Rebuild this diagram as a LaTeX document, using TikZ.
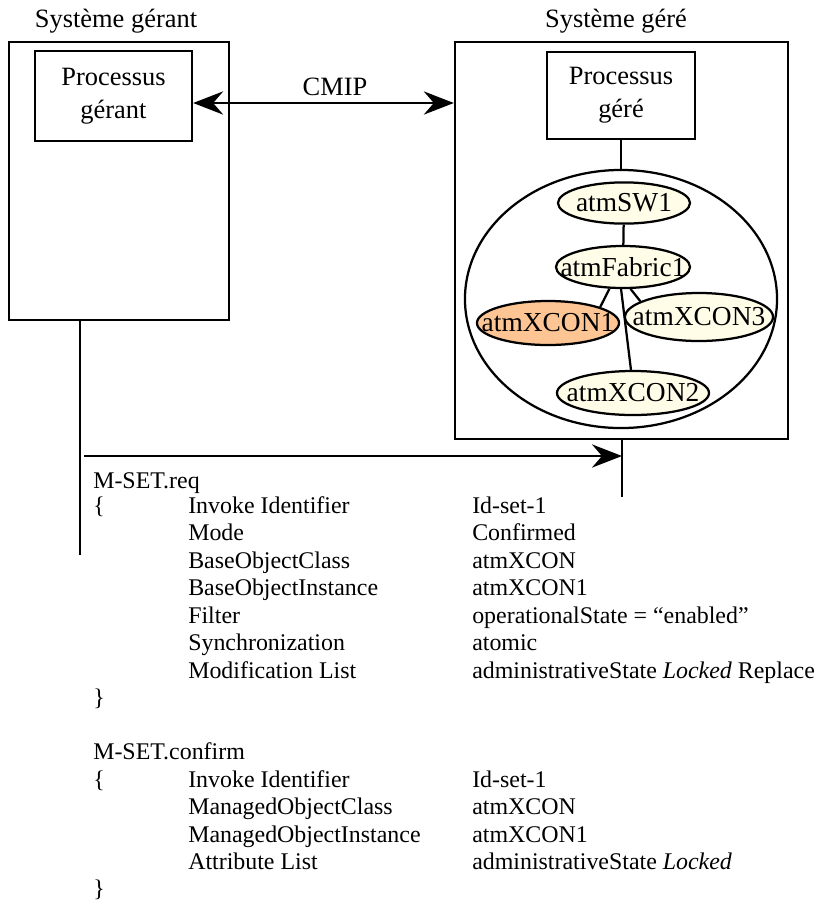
\documentclass[tikz,border=0pt]{standalone}
\usepackage{fontspec}
\setmainfont{Liberation Serif}
\usepackage{xcolor}
\usetikzlibrary{arrows.meta, calc, positioning, shapes.geometric}
\definecolor{objfill}{HTML}{FFFDE8}
\definecolor{selfill}{HTML}{FDC593}
\newcommand{\bigtxt}{\fontsize{18.8}{23.5}\selectfont}
\newcommand{\listtxt}{\fontsize{17}{20}\selectfont}
\newcommand{\objtxt}{\fontsize{19.5}{22}\selectfont}
\newcommand{\zw}[1]{\makebox[0pt]{#1}}
\tikzset{
    sysbox/.style={rectangle, draw=black, line width=1.6pt, inner sep=0pt},
    procbox/.style={rectangle, draw=black, line width=1.6pt, align=center, font=\bigtxt, inner sep=0pt},
    title/.style={anchor=base, inner sep=0pt, font=\bigtxt},
    mib/.style={ellipse, draw=black, line width=1.6pt, inner sep=0pt},
    obj/.style={ellipse, draw=black, line width=1.6pt, fill=objfill, inner sep=0pt, font=\objtxt},
    selobj/.style={obj, fill=selfill},
    link/.style={line width=1.6pt},
    arrow/.style={-{Stealth[length=0.75cm, width=0.58cm, inset=0.25cm]}, line width=1.6pt},
    biarrow/.style={{Stealth[length=0.75cm, width=0.58cm, inset=0.25cm]}-{Stealth[length=0.75cm, width=0.58cm, inset=0.25cm]}, line width=1.6pt},
    lbl/.style={anchor=base west, inner sep=0pt, font=\listtxt},
}

\begin{document}
\begin{tikzpicture}[x=0.025cm, y=-0.025cm]
        \useasboundingbox (0,0) rectangle (818,904);
        % systems
        \node[sysbox, minimum width=5.5cm, minimum height=6.95cm] (sgerant) at (119,181) {};
        \node[sysbox, minimum width=8.325cm, minimum height=9.925cm] (sgere) at (621.5,240.5) {};
        \node[title] (tgerant) at (116,27) {Système gérant};
        \node[title] (tgere) at (616,27) {Système géré};
        \node[procbox, minimum width=3.925cm, minimum height=2.25cm] (pgerant) at (113.5,96) {Processus\\gérant};
        \node[procbox, minimum width=3.7cm, minimum height=2.175cm] (pgere) at (621,95.5) {Processus\\géré};
        % CMIP
        \coordinate (cmip) at (335,103);
        \draw[biarrow] (pgerant.east |- cmip) -- (sgere.west |- cmip);
        \node[title] (tcmip) at (335,95) {CMIP};
        % MIB tree
        \node[mib, minimum width=7.8cm, minimum height=6.45cm] (mib) at (621,299) {};
        \draw[link] (pgere) -- (mib);
        \node[obj, minimum width=3.3cm, minimum height=1.03cm] (sw1) at (624,203) {\zw{atmSW1}};
        \node[obj, minimum width=3.35cm, minimum height=1.05cm] (fab1) at (623,267) {\zw{atmFabric1}};
        \node[selobj, minimum width=3.55cm, minimum height=1.1cm] (xcon1) at (548,323) {\zw{atmXCON1}};
        \node[obj, minimum width=3.7cm, minimum height=1.2cm] (xcon3) at (699,317) {\zw{atmXCON3}};
        \node[obj, minimum width=3.8cm, minimum height=1.1cm] (xcon2) at (633,393) {\zw{atmXCON2}};
        \draw[link] (sw1) -- (fab1);
        \draw[link] (fab1.238) -- (xcon1.17);
        \draw[link] (fab1.289) -- (xcon3.165);
        \draw[link] (fab1.265) -- (xcon2.95);
        % lifelines
        \coordinate (llx) at (80,555);
        \coordinate (rlx) at (622,497);
        \coordinate (req) at (84,456);
        \draw[link] (sgerant.south -| llx) -- (llx);
        \draw[link] (sgere.south -| rlx) -- (rlx);
        \draw[arrow] (req) -- (rlx |- req);
        % M-SET.req
        \node[lbl] (reqname) at (93,488) {M-SET.req};
        \node[lbl] (reqopen) at (93,513) {\{};
        \foreach \yy/\kk/\vv [count=\i] in {
            513/Invoke Identifier/Id-set-1,
            540.5/Mode/Confirmed,
            568/BaseObjectClass/atmXCON,
            595.5/BaseObjectInstance/atmXCON1,
            623/Filter/operationalState = “enabled”,
            650.5/Synchronization/atomic,
            678/Modification List/administrativeState \textit{Locked} Replace} {
            \node[lbl] (reqk\i) at (188,\yy) {\kk};
            \node[lbl] (reqv\i) at (472,\yy) {\vv};
        }
        \node[lbl] (reqclose) at (93,705.5) {\}};
        % M-SET.confirm
        \node[lbl] (cnfname) at (93,759) {M-SET.confirm};
        \node[lbl] (cnfopen) at (93,787) {\{};
        \foreach \yy/\kk/\vv [count=\i] in {
            787/Invoke Identifier/Id-set-1,
            814.5/ManagedObjectClass/atmXCON,
            842/ManagedObjectInstance/atmXCON1,
            869.5/Attribute List/administrativeState \textit{Locked}} {
            \node[lbl] (cnfk\i) at (188,\yy) {\kk};
            \node[lbl] (cnfv\i) at (472,\yy) {\vv};
        }
        \node[lbl] (cnfclose) at (93,896) {\}};
    \end{tikzpicture}
\end{document}
